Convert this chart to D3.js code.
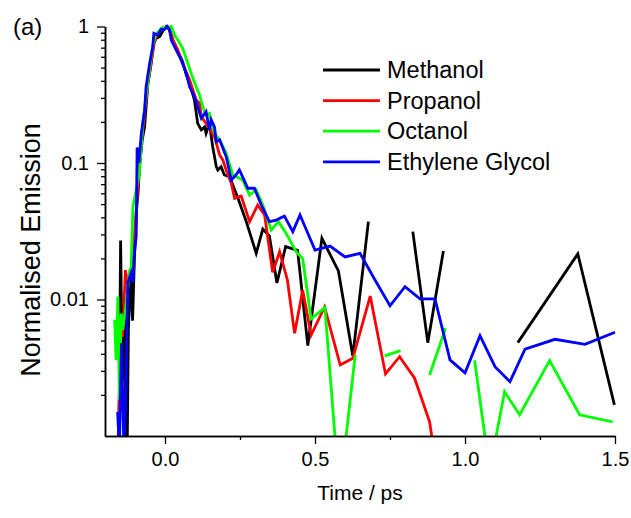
<!DOCTYPE html>
<html>
<head>
<meta charset="utf-8">
<script src="https://cdn.jsdelivr.net/npm/d3@7"></script>
<style>
  body { margin: 0; background: #fff; }
  svg { display: block; }
  text { font-family: Arial, "Liberation Sans", sans-serif; fill: #000; }
</style>
</head>
<body>
<svg id="chart" width="631" height="518"></svg>
<script>
// Solvent series shown in the legend, in drawing order
const seriesNames = ["Methanol", "Propanol", "Octanol", "Ethylene Glycol"];
const seriesColors = ["#000000", "#ff0000", "#00ff00", "#0000ff"];

// Time axis (ps) and normalised emission for each solvent; null = non-positive reading
const methanolTime = [-0.155, -0.148, -0.142, -0.135, -0.128, -0.122, -0.115, -0.108, -0.102, -0.095,
  -0.090, -0.085, -0.076, -0.068, -0.063, -0.057, -0.046, -0.038, -0.029, -0.018,
  -0.007, 0.004, 0.015, 0.026, 0.043, 0.059, 0.071, 0.082, 0.098, 0.109,
  0.121, 0.132, 0.137, 0.148, 0.159, 0.171, 0.176, 0.187, 0.198, 0.215,
  0.243, 0.271, 0.304, 0.326, 0.348, 0.373, 0.402, 0.442, 0.476, 0.523,
  0.578, 0.626, 0.678, 0.752, 0.826, 0.876, 0.928, 1.015, 1.098, 1.176,
  1.376, 1.498];
const methanolEmission = [0.0004, 0.027, 0.0025, 0.0102, 0.0003, 0.006, 0.015, 0.007, 0.02, 0.045,
  0.06, 0.094, 0.147, 0.184, 0.258, 0.384, 0.538, 0.753, 0.82, 0.842,
  0.93, 1.0, 0.95, 0.796, 0.654, 0.552, 0.441, 0.384, 0.29, 0.195,
  0.175, 0.184, 0.165, 0.195, 0.1316, 0.094, 0.0889, 0.094, 0.0817, 0.0794,
  0.0554, 0.0372, 0.0218, 0.0328, 0.0292, 0.0132, 0.0244, 0.0229, 0.0046, 0.0281,
  0.0162, 0.00385, 0.0372, null, 0.0314, 0.00483, 0.0227, null, null, 0.00483,
  0.0216, 0.00169];

const propanolTime = [-0.162, -0.146, -0.141, -0.132, -0.124, -0.113, -0.102, -0.092, -0.079, -0.068,
  -0.058, -0.046, -0.035, -0.025, -0.013, -0.002, 0.008, 0.018, 0.028, 0.042,
  0.054, 0.082, 0.104, 0.115, 0.121, 0.137, 0.154, 0.165, 0.176, 0.182,
  0.193, 0.204, 0.221, 0.232, 0.254, 0.282, 0.309, 0.332, 0.359, 0.382,
  0.408, 0.432, 0.459, 0.487, 0.532, 0.584, 0.626, 0.684, 0.735, 0.782,
  0.832, 0.882, 0.932];
const propanolEmission = [0.0003, 0.0067, 0.0053, 0.0164, 0.0132, 0.0156, 0.029, 0.06, 0.14, 0.23,
  0.37, 0.55, 0.78, 0.88, 0.95, 0.97, 1.0, 0.9, 0.78, 0.68,
  0.569, 0.406, 0.29, 0.274, 0.219, 0.195, 0.17, 0.156, 0.128, 0.1145,
  0.105, 0.0889, 0.071, 0.0551, 0.0573, 0.0372, 0.0492, 0.0416, 0.0158, 0.0224,
  0.0139, 0.00565, 0.0117, 0.00549, 0.00881, 0.00331, 0.00371, 0.0106, 0.00285, 0.00381,
  0.00265, 0.00127, 0.00023];

const octanolTime = [-0.168, -0.163, -0.157, -0.152, -0.146, -0.141, -0.129, -0.118, -0.113, -0.107,
  -0.096, -0.085, -0.074, -0.063, -0.052, -0.041, -0.032, -0.018, -0.007, 0.009,
  0.021, 0.032, 0.043, 0.059, 0.076, 0.093, 0.104, 0.115, 0.126, 0.137,
  0.148, 0.165, 0.182, 0.204, 0.226, 0.259, 0.282, 0.304, 0.326, 0.354,
  0.378, 0.405, 0.437, 0.459, 0.487, 0.533, 0.582, 0.634, 0.682, 0.732,
  0.785, 0.832, 0.882, 0.935, 0.982, 1.032, 1.082, 1.132, 1.182, 1.282,
  1.382, 1.492];
const octanolEmission = [0.0071, 0.0036, 0.0105, 0.00184, 0.0079, 0.006, 0.0094, 0.0164, 0.017, 0.0478,
  0.0635, 0.085, 0.195, 0.306, 0.48, 0.71, 0.866, 0.94, 0.99, 0.97,
  1.0, 0.866, 0.796, 0.692, 0.538, 0.417, 0.362, 0.315, 0.259, 0.224,
  0.231, 0.165, 0.148, 0.118, 0.0817, 0.075, 0.0583, 0.0635, 0.0492, 0.0323,
  0.0372, 0.0302, 0.0224, 0.0199, 0.00721, 0.00872, 0.00037, 0.00393, null, 0.00386,
  0.00422, null, 0.0028, 0.00615, null, 0.00358, 0.00056, 0.00211, 0.00143, 0.00357,
  0.00143, 0.00127];

const glycolTime = [-0.158, -0.152, -0.145, -0.137, -0.130, -0.124, -0.113, -0.107, -0.102, -0.096,
  -0.093, -0.087, -0.079, -0.068, -0.063, -0.052, -0.041, -0.037, -0.024, -0.013,
  -0.002, 0.007, 0.015, 0.021, 0.037, 0.054, 0.071, 0.082, 0.093, 0.104,
  0.121, 0.137, 0.148, 0.154, 0.165, 0.171, 0.182, 0.193, 0.204, 0.221,
  0.237, 0.248, 0.276, 0.298, 0.321, 0.348, 0.371, 0.398, 0.426, 0.45,
  0.5, 0.55, 0.6, 0.65, 0.7, 0.75, 0.8, 0.85, 0.9, 0.95,
  1.0, 1.05, 1.1, 1.15, 1.2, 1.3, 1.4, 1.5];
const glycolEmission = [0.0015, 0.0008, 0.0048, 0.0008, 0.0022, 0.0132, 0.0156, 0.0133, 0.022, 0.029,
  0.13, 0.10, 0.165, 0.244, 0.362, 0.522, 0.711, 0.892, 0.866, 0.954,
  0.95, 1.0, 0.95, 0.796, 0.673, 0.569, 0.454, 0.362, 0.324, 0.281,
  0.213, 0.238, 0.175, 0.207, 0.184, 0.143, 0.148, 0.128, 0.111, 0.075,
  0.082, 0.089, 0.0653, 0.0653, 0.0492, 0.0372, 0.0382, 0.0409, 0.0314, 0.0416,
  0.023, 0.0246, 0.0205, 0.0218, 0.0139, 0.009, 0.0124, 0.0101, 0.0101, 0.00361,
  0.0029, 0.00543, 0.00322, 0.0025, 0.00432, 0.00511, 0.0047, 0.00575];

// Axis ticks
const xMajorTicks = [0, 0.5, 1.0, 1.5];
const xTickLabels = ["0.0", "0.5", "1.0", "1.5"];
const xMinorTicks = [0.25, 0.75, 1.25];
const yMajorTicks = [1, 0.1, 0.01];
const yTickLabels = ["1", "0.1", "0.01"];
const yMinorTicks = [0.002, 0.003, 0.004, 0.005, 0.006, 0.007, 0.008, 0.009,
  0.02, 0.03, 0.04, 0.05, 0.06, 0.07, 0.08, 0.09,
  0.2, 0.3, 0.4, 0.5, 0.6, 0.7, 0.8, 0.9];

const seriesTimes = [methanolTime, propanolTime, octanolTime, glycolTime];
const seriesValues = [methanolEmission, propanolEmission, octanolEmission, glycolEmission];

const svg = d3.select("#chart");
const plot = { left: 105, right: 615, top: 26.5, bottom: 436 };

const x = d3.scaleLinear().domain([-0.2, 1.5]).range([plot.left, plot.right]);
const y = d3.scaleLog().domain([0.001, 1]).range([plot.bottom, plot.top]);

svg.append("defs").append("clipPath").attr("id", "plot-clip")
  .append("rect")
  .attr("x", plot.left).attr("y", plot.top - 6)
  .attr("width", plot.right - plot.left + 3).attr("height", plot.bottom - plot.top + 6);

// Data lines
const line = d3.line()
  .defined(d => d.v !== null)
  .x(d => x(d.t))
  .y(d => y(d.v));

const traces = svg.append("g").attr("clip-path", "url(#plot-clip)");
seriesNames.forEach((name, i) => {
  const pts = seriesTimes[i].map((t, k) => ({ t: t, v: seriesValues[i][k] }));
  traces.append("path")
    .datum(pts)
    .attr("fill", "none")
    .attr("stroke", seriesColors[i])
    .attr("stroke-width", 2.8)
    .attr("stroke-linejoin", "miter")
    .attr("d", line);
});

// Axes
function styleAxis(g) {
  g.selectAll("path.domain").attr("stroke", "#000").attr("stroke-width", 1.5);
  g.selectAll(".tick line").attr("stroke", "#000").attr("stroke-width", 1.3);
  g.selectAll(".tick text").attr("font-size", 20).attr("fill", "#000")
    .attr("font-family", "Arial, 'Liberation Sans', sans-serif");
}

const xAxisMinor = svg.append("g").attr("transform", `translate(0,${plot.bottom})`)
  .call(d3.axisBottom(x).tickValues(xMinorTicks).tickSize(4).tickSizeOuter(0).tickFormat(""));
styleAxis(xAxisMinor);
const xAxis = svg.append("g").attr("transform", `translate(0,${plot.bottom})`)
  .call(d3.axisBottom(x).tickValues(xMajorTicks).tickSize(8).tickSizeOuter(0).tickPadding(8)
    .tickFormat((d, i) => xTickLabels[i]));
styleAxis(xAxis);

const yAxisMinor = svg.append("g").attr("transform", `translate(${plot.left},0)`)
  .call(d3.axisLeft(y).tickValues(yMinorTicks).tickSize(4).tickSizeOuter(0).tickFormat(""));
styleAxis(yAxisMinor);
const yAxis = svg.append("g").attr("transform", `translate(${plot.left},0)`)
  .call(d3.axisLeft(y).tickValues(yMajorTicks).tickSize(8).tickSizeOuter(0).tickPadding(8)
    .tickFormat((d, i) => yTickLabels[i]));
styleAxis(yAxis);

// Axis titles and panel label
svg.append("text")
  .attr("x", (plot.left + plot.right) / 2).attr("y", 500)
  .attr("text-anchor", "middle").attr("font-size", 21)
  .text("Time / ps");

svg.append("text")
  .attr("transform", "translate(40,250) rotate(-90)")
  .attr("text-anchor", "middle").attr("font-size", 27)
  .text("Normalised Emission");

svg.append("text")
  .attr("x", 13).attr("y", 35)
  .attr("font-size", 24)
  .text("(a)");

// Legend
const legend = svg.append("g");
seriesNames.forEach((name, i) => {
  const ly = 70 + i * 30.6;
  legend.append("line")
    .attr("x1", 323).attr("x2", 380).attr("y1", ly).attr("y2", ly)
    .attr("stroke", seriesColors[i]).attr("stroke-width", 2.8);
  legend.append("text")
    .attr("x", 387).attr("y", ly + 8)
    .attr("font-size", 23.5)
    .text(name);
});
</script>
</body>
</html>
